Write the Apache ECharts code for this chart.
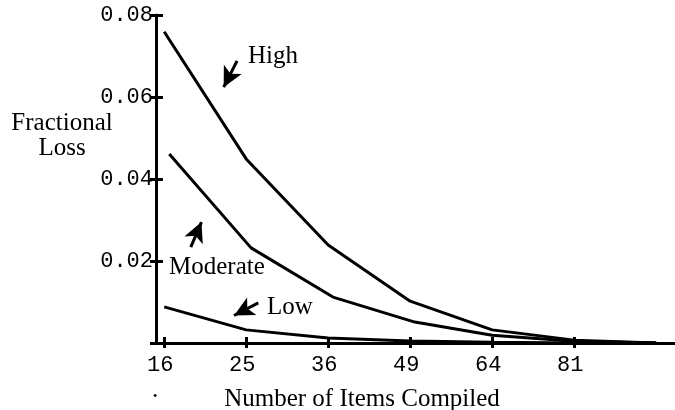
<!DOCTYPE html>
<html>
<head>
<meta charset="utf-8">
<script src="https://cdn.jsdelivr.net/npm/echarts@6/dist/echarts.min.js"></script>
<style>
  html, body { margin: 0; padding: 0; background: #fff; }
  #chart { width: 675px; height: 410px; }
</style>
</head>
<body>
<div id="chart"></div>
<script>
// number of items compiled (x is drawn on a square-root scale)
var items = [16, 25, 36, 49, 64, 81, 100];
var moderateItems = [16.5, 25.6, 36.7, 49.8, 64, 81, 100]; // this curve sits a little right in the original
var tickLabels = [16, 25, 36, 49, 64, 81];

// fractional loss
var high = [0.0759, 0.0449, 0.0239, 0.0102, 0.0032, 0.0007, 0];
var moderate = [0.0461, 0.0232, 0.0112, 0.0051, 0.0019, 0.0004, 0];
var low = [0.0088, 0.0032, 0.0012, 0.0005, 0.0002, 0, 0];

// annotation arrows: [tail, head] in (items, loss)
var highArrow = [[23.9, 0.0688], [22.33, 0.0624]];
var moderateArrow = [[18.7, 0.0234], [19.84, 0.0295]];
var lowArrow = [[26.5, 0.0098], [23.54, 0.0067]];

var serif = '"Liberation Serif", "Times New Roman", serif';
var mono = '"Liberation Mono", "Courier New", monospace';

function pts(xs, ys) {
  return xs.map(function (n, i) { return [Math.sqrt(n), ys[i]]; });
}
function arrow(a) {
  return {
    silent: true,
    symbolSize: [15, 20],
    label: { show: false },
    lineStyle: { color: "#000", width: 3, type: "solid" },
    data: [[
      { coord: [Math.sqrt(a[0][0]), a[0][1]], symbol: "none" },
      { coord: [Math.sqrt(a[1][0]), a[1][1]], symbol: "arrow" }
    ]]
  };
}
function lineSeries(name, data, a) {
  return {
    name: name,
    type: "line",
    xAxisIndex: 0,
    yAxisIndex: 0,
    data: data,
    showSymbol: false,
    symbol: "none",
    lineStyle: { color: "#000", width: 3 },
    markLine: arrow(a)
  };
}

var tickPos = tickLabels.map(Math.sqrt);

var chart = echarts.init(document.getElementById("chart"));
var option = {
  animation: false,
  backgroundColor: "#fff",
  grid: { left: 156, right: 0, top: 15, bottom: 67 },
  xAxis: [
    {
      type: "value",
      min: 3.9,
      max: 10.23,
      axisLine: { show: true, lineStyle: { color: "#000", width: 3 } },
      axisTick: { show: true, length: 5, customValues: tickPos, lineStyle: { color: "#000", width: 3 } },
      splitLine: { show: false },
      axisLabel: {
        customValues: tickPos,
        margin: 11,
        color: "#000",
        fontFamily: mono,
        fontSize: 22,
        padding: [0, 8, 0, 0],
        formatter: function (v) { return Math.round(v * v); }
      }
    },
    {
      type: "value",
      position: "bottom",
      min: 3.9,
      max: 10.23,
      axisLine: { show: false },
      axisTick: { show: true, inside: true, length: 6, customValues: tickPos, lineStyle: { color: "#000", width: 3 } },
      axisLabel: { show: false },
      splitLine: { show: false }
    }
  ],
  yAxis: [
    {
      type: "value",
      min: 0,
      max: 0.08,
      interval: 0.02,
      axisLine: { show: true, lineStyle: { color: "#000", width: 3 } },
      axisTick: { show: true, length: 6, lineStyle: { color: "#000", width: 3 } },
      splitLine: { show: false },
      axisLabel: {
        margin: 3,
        color: "#000",
        fontFamily: mono,
        fontSize: 22,
        formatter: function (v) { return v === 0 ? "" : v.toFixed(2); }
      }
    },
    {
      type: "value",
      position: "left",
      min: 0,
      max: 0.08,
      interval: 0.02,
      axisLine: { show: false },
      axisTick: { show: true, inside: true, length: 7, lineStyle: { color: "#000", width: 3 } },
      axisLabel: { show: false },
      splitLine: { show: false }
    }
  ],
  series: [
    lineSeries("High", pts(items, high), highArrow),
    lineSeries("Moderate", pts(moderateItems, moderate), moderateArrow),
    lineSeries("Low", pts(items, low), lowArrow)
  ],
  graphic: [
    { type: "text", left: 248, top: 44, style: { text: "High", fill: "#000", font: "25px " + serif } },
    { type: "text", left: 169, top: 255, style: { text: "Moderate", fill: "#000", font: "25px " + serif } },
    { type: "text", left: 267, top: 295, style: { text: "Low", fill: "#000", font: "25px " + serif } },
    {
      type: "text", x: 62, y: 136,
      style: { text: "Fractional\nLoss", fill: "#000", font: "25px " + serif, lineHeight: 25, align: "center", verticalAlign: "middle" }
    },
    {
      type: "text", x: 362, y: 399,
      style: { text: "Number of Items Compiled", fill: "#000", font: "25px " + serif, align: "center", verticalAlign: "middle" }
    },
    { type: "text", x: 155, y: 390, style: { text: ".", fill: "#000", font: "25px " + serif, align: "center", verticalAlign: "middle" } }
  ]
};
chart.setOption(option);
</script>
</body>
</html>
